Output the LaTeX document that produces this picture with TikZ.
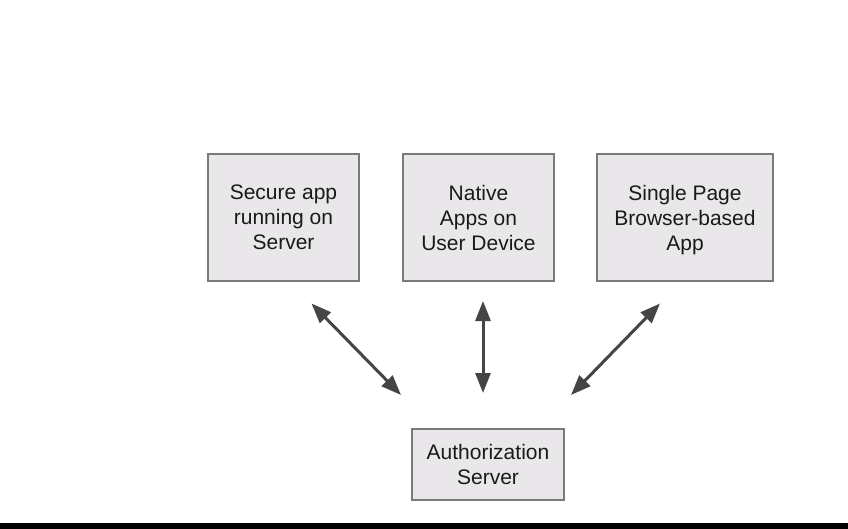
\documentclass[tikz,border=0pt]{standalone}
\usepackage{fontspec}
\setmainfont{Liberation Sans}
\usetikzlibrary{arrows.meta}
\definecolor{boxfill}{HTML}{E9E7E9}
\definecolor{boxline}{HTML}{7A7A7A}
\definecolor{arrowgray}{HTML}{454545}
\definecolor{inkdark}{HTML}{1A1A1A}
% last line of a box label set without depth, so every label centres alike
\newcommand{\lastline}[1]{\raisebox{0pt}[\height][0pt]{#1}}
\begin{document}
\begin{tikzpicture}[x=1pt,y=-1pt,
  appbox/.style={draw=boxline, line width=1.3pt, fill=boxfill, align=center,
    inner sep=0pt, text=inkdark,
    font=\fontsize{21}{25}\selectfont},
  link/.style={draw=arrowgray, line width=3pt,
    {Triangle[length=20pt,width=15pt]}-{Triangle[length=20pt,width=15pt]}}]
  % canvas and bottom band
  \useasboundingbox (0,0) rectangle (848,529);
  \fill[white] (0,0) rectangle (848,529);
  \fill[black] (0,523) rectangle (848,529);

  % client applications
  \node[appbox, minimum width=151pt, minimum height=127pt] (server) at (283.5,217.5)
    {Secure app\\running on\\\lastline{Server}};
  \node[appbox, minimum width=151pt, minimum height=127pt] (native) at (478.5,217.5)
    {Native\\Apps on\\\lastline{User Device}};
  \node[appbox, minimum width=176pt, minimum height=127pt] (spa) at (685,217.5)
    {Single Page\\Browser-based\\\lastline{App}};

  % authorization server
  \node[appbox, minimum width=152pt, minimum height=71pt] (auth) at (488,464.5)
    {Authorization\\\lastline{Server}};

  % arrow end points
  \coordinate (serverEnd) at (311.5,303.5);
  \coordinate (authLeft) at (401,395);
  \coordinate (nativeEnd) at (483,301);
  \coordinate (authMid) at (483,393);
  \coordinate (spaEnd) at (660,303.5);
  \coordinate (authRight) at (571,395);

  \draw[link] (serverEnd) -- (authLeft);
  \draw[link] (nativeEnd) -- (authMid);
  \draw[link] (spaEnd) -- (authRight);
\end{tikzpicture}
\end{document}
